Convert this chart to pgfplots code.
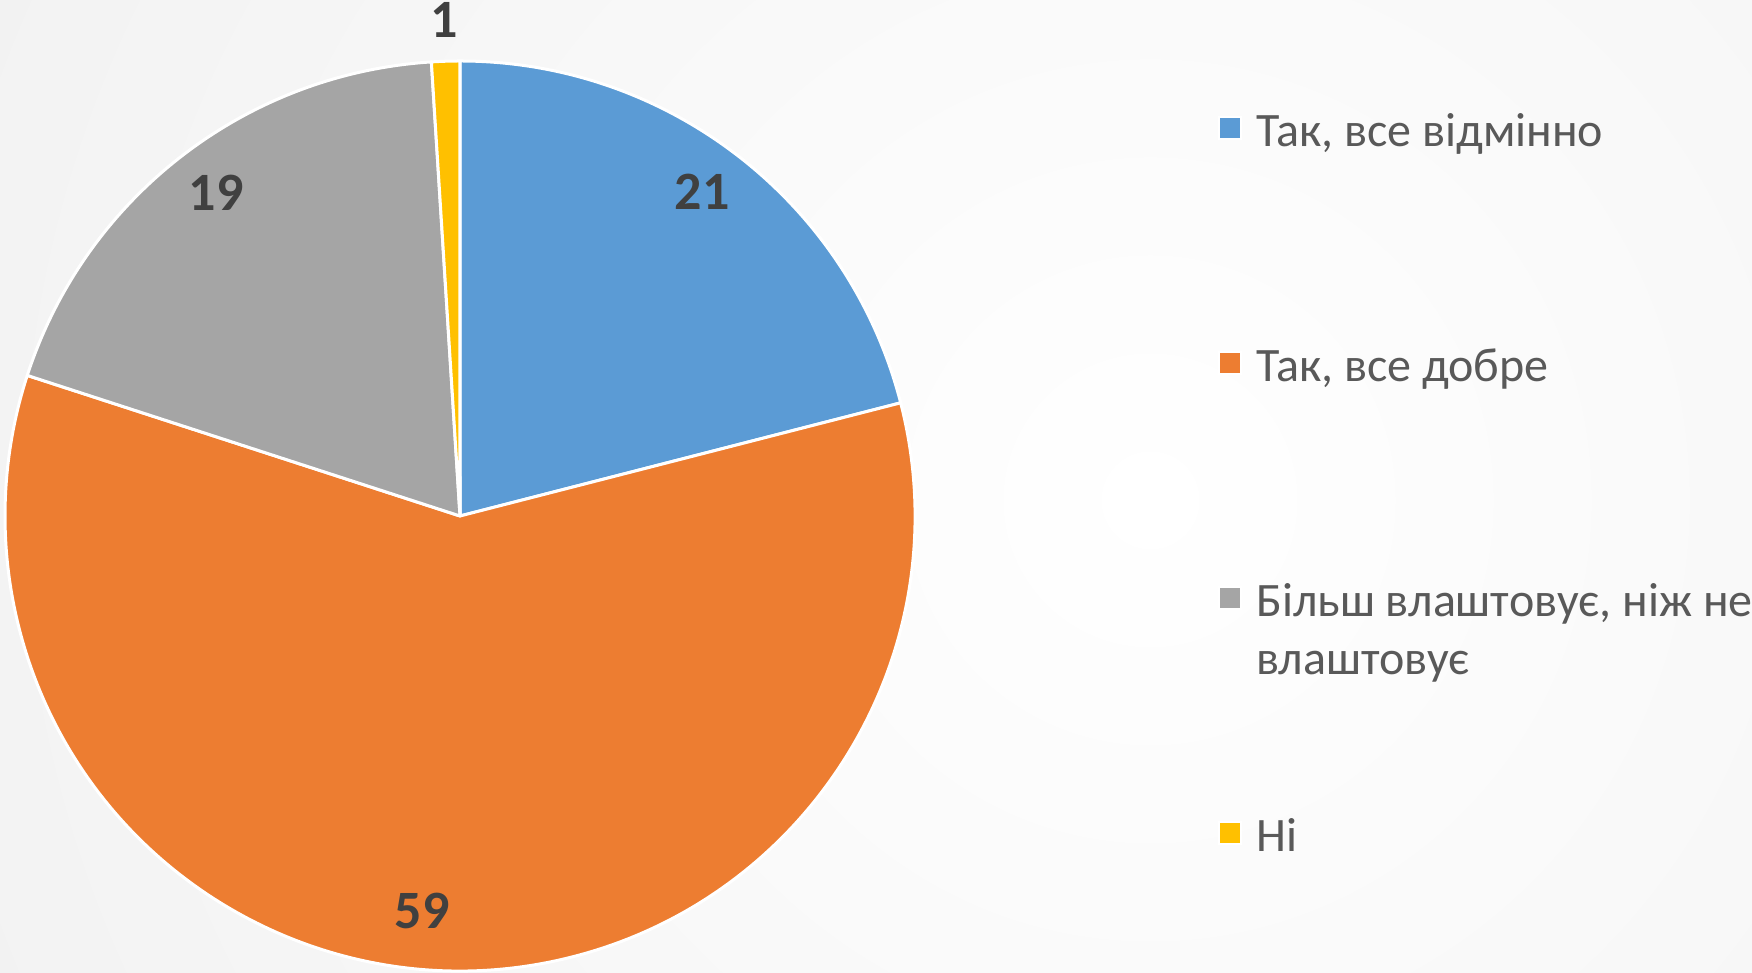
\documentclass[border=0pt]{standalone}
\usepackage{pgfplots}
\pgfplotsset{compat=1.18}
\usepackage{pgfplotstable}
\usepackage{fontspec}
\setmainfont{Carlito}
\definecolor{cblue}{HTML}{5B9BD5}
\definecolor{corange}{HTML}{ED7D31}
\definecolor{cgray}{HTML}{A5A5A5}
\definecolor{cyellow}{HTML}{FFC000}
\definecolor{labtext}{HTML}{404040}
\definecolor{legtext}{HTML}{595959}
\newcommand\labfont{\fontsize{54}{60}\selectfont\bfseries}
\newcommand\legfont{\fontsize{48}{58}\selectfont}

% pie values (clockwise from 12 o'clock)
\pgfplotstableread{
value
21
59
19
1
}\piedata
% data label positions (chart pixel coordinates, y up) and texts
\pgfplotstableread{
x y label
702 781 21
422 62 59
216 780 19
444 953 1
}\labeldata

\pgfplotstablegetelem{0}{value}\of\piedata \let\vA\pgfplotsretval
\pgfplotstablegetelem{1}{value}\of\piedata \let\vB\pgfplotsretval
\pgfplotstablegetelem{2}{value}\of\piedata \let\vC\pgfplotsretval
\pgfplotstablegetelem{3}{value}\of\piedata \let\vD\pgfplotsretval
\pgfmathsetmacro\total{\vA+\vB+\vC+\vD}
\pgfmathsetmacro\aA{90}
\pgfmathsetmacro\aB{\aA-360*(\vA/\total)}
\pgfmathsetmacro\aC{\aB-360*(\vB/\total)}
\pgfmathsetmacro\aD{\aC-360*(\vC/\total)}
\pgfmathsetmacro\aE{\aD-360*(\vD/\total)}
\def\cx{460}
\def\cy{457}
\def\R{455}

\begin{document}
\begin{tikzpicture}
\begin{axis}[
  x=1pt, y=1pt,
  xmin=0, xmax=1752, ymin=0, ymax=973,
  hide axis, clip=false,
  legend image code/.code={\filldraw[#1, draw=white, line width=2pt] (0pt,-4pt) rectangle (22pt,18pt);},
  legend cell align=left,
  legend style={at={(axis cs:1218,861)}, anchor=north west, draw=none, fill=none,
    inner sep=0pt, row sep=189pt, column sep=14pt,
    nodes={inner sep=0pt, text height=34pt, text depth=12pt, font=\legfont, text=legtext}},
]
\coordinate (bgsw) at (axis cs:0,0);
\coordinate (bgne) at (axis cs:1752,973);
\begin{scope}
\clip (axis cs:0,0) rectangle (axis cs:1752,973);
\shade[inner color=white, outer color=gray!20] (axis cs:1150,473) circle[radius=2500pt];
\end{scope}

\filldraw[fill=cblue, draw=white, line width=3pt, line join=round]
  (axis cs:\cx,\cy) -- (axis cs:{\cx+\R*cos(\aA)},{\cy+\R*sin(\aA)}) arc[start angle=\aA, end angle=\aB, radius=\R pt] -- cycle;
\filldraw[fill=corange, draw=white, line width=3pt, line join=round]
  (axis cs:\cx,\cy) -- (axis cs:{\cx+\R*cos(\aB)},{\cy+\R*sin(\aB)}) arc[start angle=\aB, end angle=\aC, radius=\R pt] -- cycle;
\filldraw[fill=cgray, draw=white, line width=3pt, line join=round]
  (axis cs:\cx,\cy) -- (axis cs:{\cx+\R*cos(\aC)},{\cy+\R*sin(\aC)}) arc[start angle=\aC, end angle=\aD, radius=\R pt] -- cycle;
\filldraw[fill=cyellow, draw=white, line width=3pt, line join=round]
  (axis cs:\cx,\cy) -- (axis cs:{\cx+\R*cos(\aD)},{\cy+\R*sin(\aD)}) arc[start angle=\aD, end angle=\aE, radius=\R pt] -- cycle;

\addplot[forget plot, draw=none, mark=none, nodes near coords, point meta=explicit symbolic,
  every node near coord/.style={anchor=center, font=\labfont, text=labtext, inner sep=0pt}]
  table[x=x, y=y, meta=label]{\labeldata};

\addlegendimage{fill=cblue}\addlegendentry{Так, все відмінно}
\addlegendimage{fill=corange}\addlegendentry{Так, все добре}
\addlegendimage{fill=cgray}\addlegendentry{\parbox[t]{540pt}{Більш влаштовує, ніж не\\влаштовує}}
\addlegendimage{fill=cyellow}\addlegendentry{Ні}
\end{axis}
\pgfresetboundingbox
\useasboundingbox (bgsw) rectangle (bgne);
\end{tikzpicture}
\end{document}
